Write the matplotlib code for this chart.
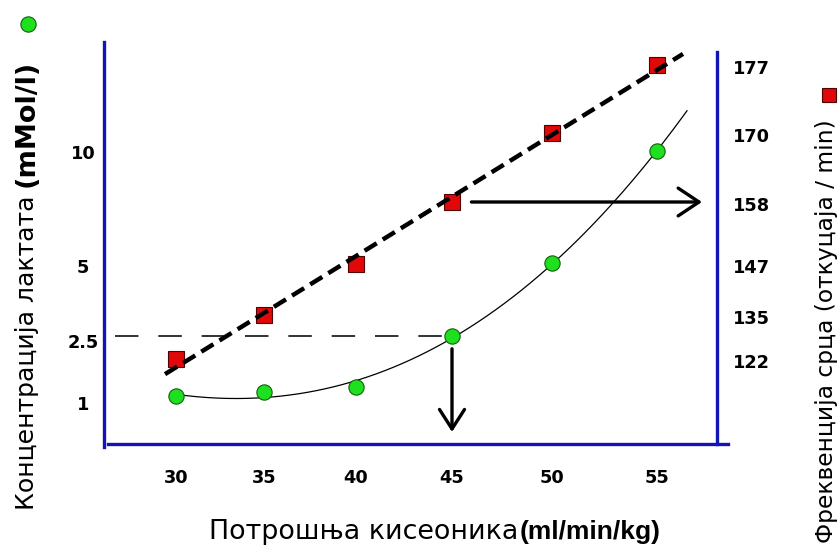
import numpy as np
import matplotlib
matplotlib.use("Agg")
import matplotlib.pyplot as plt
from matplotlib.lines import Line2D
from matplotlib.transforms import ScaledTranslation

# ---------------- data ----------------
vo2 = [30, 35, 40, 45, 50, 55]                      # ml/min/kg
lactate = [1.04, 1.12, 1.23, 2.5, 4.93, 9.8]         # mMol/l
heart_rate = [122, 135, 147, 158, 170, 177]          # beats / min
x_ticks = [30, 35, 40, 45, 50, 55]
lactate_ticks = [1, 2.5, 5, 10]
lactate_tick_labels = ["1", "2.5", "5", "10"]
hr_ticks = [122, 135, 147, 158, 170, 177]
threshold_vo2 = 45
threshold_lactate = 2.5
threshold_hr = 158

# ---------------- layout (pixels) ----------------
DPI = 100
FW, FH = 840, 553
AX_L, AX_R, AX_B, AX_T = 104, 717, 444, 42
X0_PX = 176                      # where x=30 sits
XA, XB = 85.7, 2.1               # hand-drawn x axis: px = XA*t + XB*t^2, t = (x-30)/5
LA, LB = 482.2, 84.2             # left axis: px = LA - LB * v**0.6
HR_PX = [359, 315, 264, 202, 133, 65]   # hand-drawn right axis anchors

BLUE = "#1414b4"
GREEN = "#1ee01e"
RED = "#e00808"

# ---------------- scale functions ----------------
def fx(x):
    t = (np.asarray(x, float) - 30.0) / 5.0
    return XA * t + XB * t * t

def fx_inv(u):
    u = np.asarray(u, float)
    d = np.sqrt(np.maximum(XA * XA + 4 * XB * u, 0.0))
    t = (-XA + d) / (2 * XB)
    return 30.0 + 5.0 * t

def fl(v):
    return np.power(np.clip(np.asarray(v, float), 1e-9, None), 0.6)

def fl_inv(u):
    return np.power(np.clip(np.asarray(u, float), 1e-9, None), 1 / 0.6)

hr_anchor = np.array(hr_ticks, float)
hr_pos = AX_B - np.array(HR_PX, float)

def _pw(v, xa, ya):
    v = np.asarray(v, float)
    shp = v.shape
    v = np.atleast_1d(v).astype(float)
    out = np.interp(v, xa, ya)
    lo = v < xa[0]
    hi = v > xa[-1]
    out[lo] = ya[0] + (v[lo] - xa[0]) * (ya[1] - ya[0]) / (xa[1] - xa[0])
    out[hi] = ya[-1] + (v[hi] - xa[-1]) * (ya[-1] - ya[-2]) / (xa[-1] - xa[-2])
    return out.reshape(shp)

def fr(v):
    return _pw(v, hr_anchor, hr_pos)

def fr_inv(u):
    return _pw(u, hr_pos, hr_anchor)

# ---------------- figure ----------------
fig = plt.figure(figsize=(FW / DPI, FH / DPI), dpi=DPI)
ax = fig.add_axes([AX_L / FW, (FH - AX_B) / FH, (AX_R - AX_L) / FW, (AX_B - AX_T) / FH])
ax.set_xscale("function", functions=(fx, fx_inv))
ax.set_yscale("function", functions=(fl, fl_inv))
ax.set_xlim(float(fx_inv(AX_L - X0_PX)), float(fx_inv(AX_R - X0_PX)))
ax.set_ylim(float(fl_inv((LA - AX_B) / LB)), float(fl_inv((LA - AX_T) / LB)))

ax2 = ax.twinx()
ax2.set_yscale("function", functions=(fr, fr_inv))
ax2.set_ylim(float(fr_inv(0.0)), float(fr_inv(AX_B - AX_T)))
ax2.set_xlim(ax.get_xlim())

for a in (ax, ax2):
    for s in a.spines.values():
        s.set_visible(False)
    a.patch.set_visible(False)

# axis lines
W = AX_R - AX_L
H = AX_B - AX_T
lw_axis = 2.4
ax.add_line(Line2D([0, 0], [-3 / H, 1.0], transform=ax.transAxes, color=BLUE, lw=lw_axis, clip_on=False))
ax.add_line(Line2D([4 / W, (728 - AX_L) / W], [0, 0], transform=ax.transAxes, color=BLUE, lw=lw_axis, clip_on=False))
ax.add_line(Line2D([1, 1], [0, (AX_B - 52) / H], transform=ax.transAxes, color=BLUE, lw=lw_axis, clip_on=False))

# ---- lactate: cubic trend fitted in drawing space ----
X = fx(vo2)
coef_l = np.polyfit(X, fl(lactate), 3)
Xg = np.linspace(fx(vo2[0]), 687 - X0_PX, 300)
ax.plot(fx_inv(Xg), fl_inv(np.polyval(coef_l, Xg)), color="black", lw=0.9, zorder=3, clip_on=False)

# threshold dashed line
ax.plot([float(fx_inv(115 - X0_PX)), threshold_vo2], [threshold_lactate, threshold_lactate],
        color="#222222", lw=1.3, dashes=(13, 11), zorder=2)

ax.plot(vo2, lactate, linestyle="none", marker="o", ms=11, mfc=GREEN, mec="#106010",
        mew=0.8, zorder=5, clip_on=False)

# down arrow
ax.annotate("", xy=(threshold_vo2, float(fl_inv((LA - 432) / LB))),
            xytext=(threshold_vo2, threshold_lactate),
            arrowprops=dict(arrowstyle="->,head_length=0.7,head_width=0.45", color="black",
                            lw=2.4, shrinkA=9, shrinkB=0, mutation_scale=20), zorder=4)

# ---- heart rate: linear trend fitted in drawing space ----
coef_h = np.polyfit(X, fr(heart_rate), 1)
Xh = np.array([165 - X0_PX, 683 - X0_PX], float)
ax2.plot(vo2, heart_rate, linestyle="none", marker="s", ms=11, mfc=RED, mec="#500000",
         mew=0.8, zorder=3, clip_on=False)
ax2.plot(fx_inv(Xh), fr_inv(np.polyval(coef_h, Xh)), color="black", lw=3.2,
         dashes=(3.2, 1.6), zorder=4, clip_on=False)

# right arrow
ax2.annotate("", xy=(float(fx_inv(702 - X0_PX)), threshold_hr), xytext=(threshold_vo2, threshold_hr),
             arrowprops=dict(arrowstyle="->,head_length=0.75,head_width=0.5", color="black",
                             lw=2.4, shrinkA=14, shrinkB=0, mutation_scale=20), zorder=4)

# ---- ticks ----
tick_font = dict(family="DejaVu Sans", weight="bold", size=12.8)
ax.set_xticks(x_ticks)
ax.set_xticklabels([str(v) for v in x_ticks], **tick_font)
ax.set_yticks(lactate_ticks)
ax.set_yticklabels(lactate_tick_labels, **tick_font)
ax2.set_yticks(hr_ticks)
ax2.set_yticklabels([str(v) for v in hr_ticks], **tick_font)
ax.minorticks_off()
ax2.minorticks_off()
ax.tick_params(axis="x", length=0, pad=18)
ax.tick_params(axis="y", length=0, pad=15)
ax2.tick_params(axis="y", length=0, pad=11.5)
for lbl in ax.get_yticklabels():
    lbl.set_horizontalalignment("center")
    lbl.set_transform(lbl.get_transform() + ScaledTranslation(0, -5 / DPI, fig.dpi_scale_trans))
for lbl in ax2.get_yticklabels():
    lbl.set_transform(lbl.get_transform() + ScaledTranslation(0, -2 / DPI, fig.dpi_scale_trans))

# ---- axis titles ----
fig.text(518 / FW, 1 - 539 / FH, "Потрошња кисеоника", family="DejaVu Sans", size=19.4,
         ha="right", va="baseline")
fig.text(520 / FW, 1 - 539 / FH, "(ml/min/kg)", family="Liberation Sans", size=19, weight="bold",
         ha="left", va="baseline")

fig.text(27 / FW, 1 - 187 / FH, "Концентрација лактата ", family="DejaVu Sans", size=18.1,
         rotation=90, ha="center", va="top")
fig.text(27 / FW, 1 - 187 / FH, "(mMol/l)", family="DejaVu Sans", size=19.5, weight="bold",
         rotation=90, ha="center", va="bottom")

fig.text(827 / FW, 1 - 331 / FH, "Фреквенција срца (откуцаја / min)", family="DejaVu Sans",
         size=16.8, rotation=90, ha="center", va="center")

# series keys next to the axis titles
fig.add_artist(Line2D([28 / FW], [1 - 24 / FH], transform=fig.transFigure, linestyle="none",
                      marker="o", ms=11, mfc=GREEN, mec="#106010", mew=0.8))
fig.add_artist(Line2D([829 / FW], [1 - 95 / FH], transform=fig.transFigure, linestyle="none",
                      marker="s", ms=10.5, mfc=RED, mec="#500000", mew=0.8))

fig.savefig("out.png", dpi=DPI)
